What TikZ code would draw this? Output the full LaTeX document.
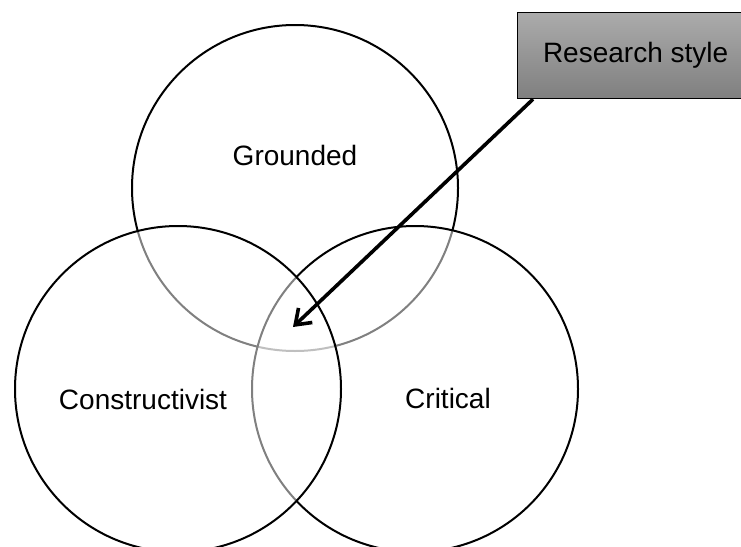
\documentclass[tikz,border=0pt]{standalone}
\usepackage{fontspec}
\setmainfont{Liberation Sans}
\usetikzlibrary{arrows.meta}

\begin{document}
\begin{tikzpicture}[x=1pt, y=-1pt]
        \tikzstyle{venn} = [circle, draw=black, line width=2pt, fill=white,
          fill opacity=0.5, minimum size=326pt, inner sep=0pt]
        \tikzstyle{lbl} = [font=\fontsize{28}{32}\selectfont]
        \tikzstyle{stylebox} = [rectangle, draw=black, line width=1.2pt,
          top color=black!33, bottom color=black!50, minimum width=236pt,
          minimum height=86pt, font=\fontsize{28}{32}\selectfont]

        \clip (0,0) rectangle (741,546);

        % the three circles, drawn back to front
        \node[venn] (grounded) at (295,188) {};
        \node[venn] (critical) at (415,389) {};
        \node[venn] (constructivist) at (178,389) {};

        \node[lbl] (groundedlbl) at (295,155) {Grounded};
        \node[lbl] (constructivistlbl) at (143,399) {Constructivist};
        \node[lbl] (criticallbl) at (448,398) {Critical};

        \node[stylebox, anchor=north west] (research) at (517,12) {Research style};
        \coordinate (core) at (293,327);
        \draw[line width=3.6pt, -{Straight Barb[length=14pt, width=20pt]}]
          ([xshift=16pt]research.south west) -- (core);
      \end{tikzpicture}
\end{document}
